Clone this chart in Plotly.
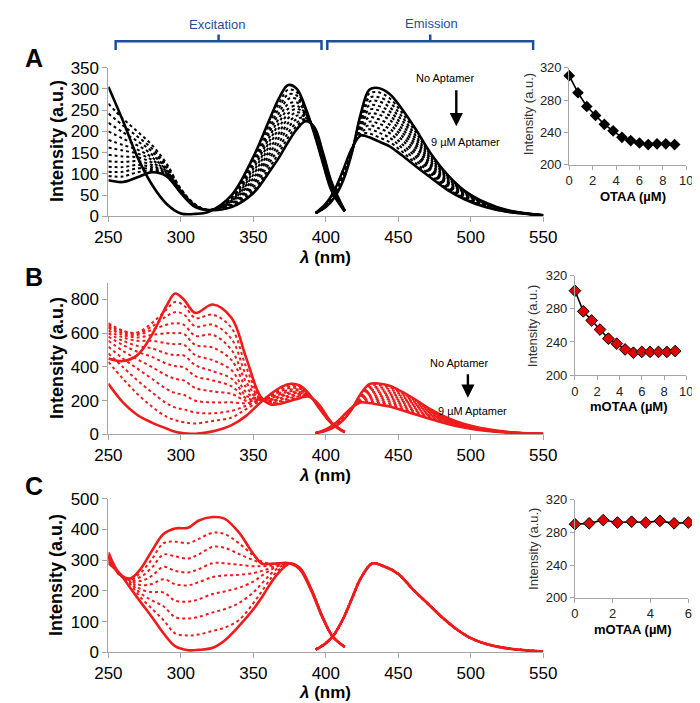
import plotly.graph_objects as go

W, H = 700, 703
FONT = "Liberation Sans, Arial, sans-serif"
RED = "#EE1C1C"
BLUE = "#1F4E9E"

# ---------------- Panel A (black) ----------------
exA_wl = [250, 260, 270, 280, 290, 300, 310, 320, 335, 350, 362, 368, 374, 380, 386, 392, 398, 404, 413]
exA = [
    [305, 225, 140, 75, 30, 7, 6, 12, 50, 140, 235, 280, 309, 300, 255, 195, 125, 60, 12],
    [265, 230, 200, 168, 125, 65, 28, 15, 48, 133, 225, 268, 298, 292, 252, 196, 127, 62, 12],
    [242, 214, 188, 160, 120, 64, 28, 15, 45, 126, 214, 257, 287, 284, 250, 198, 129, 63, 12],
    [220, 198, 177, 153, 116, 63, 27, 15, 43, 119, 204, 245, 276, 276, 247, 199, 131, 65, 12],
    [200, 183, 167, 146, 112, 62, 27, 15, 41, 112, 193, 233, 264, 268, 245, 200, 133, 67, 13],
    [180, 168, 157, 139, 109, 61, 26, 15, 38, 105, 183, 222, 253, 260, 242, 201, 135, 68, 13],
    [162, 155, 148, 133, 106, 60, 26, 15, 36, 98, 173, 210, 242, 253, 240, 203, 138, 70, 13],
    [145, 141, 139, 127, 103, 59, 25, 15, 34, 90, 162, 198, 231, 245, 237, 204, 140, 72, 13],
    [130, 128, 130, 121, 101, 58, 25, 15, 31, 83, 152, 187, 220, 237, 234, 205, 142, 73, 13],
    [117, 116, 121, 116, 99, 57, 24, 15, 29, 76, 141, 175, 209, 229, 232, 206, 144, 75, 14],
    [105, 105, 113, 111, 97, 56, 24, 15, 27, 69, 131, 163, 197, 221, 229, 208, 146, 77, 14],
    [95, 94, 104, 107, 96, 56, 23, 15, 24, 62, 120, 152, 186, 213, 227, 209, 148, 78, 14],
    [85, 81, 92, 104, 95, 55, 22, 15, 22, 55, 110, 140, 175, 205, 224, 210, 150, 80, 14],
]
emA_wl = [393, 400, 406, 412, 418, 424, 430, 436, 444, 452, 462, 472, 484, 496, 510, 525, 550]
emA = [
    [8, 22, 45, 85, 150, 240, 298, 302, 288, 255, 205, 150, 98, 60, 33, 15, 3],
    [8, 23, 46, 87, 151, 236, 289, 292, 278, 246, 198, 145, 95, 58, 32, 15, 3],
    [8, 23, 48, 89, 152, 232, 279, 281, 268, 237, 190, 140, 92, 57, 31, 14, 3],
    [8, 24, 49, 91, 153, 228, 270, 271, 257, 228, 183, 136, 89, 55, 30, 14, 3],
    [8, 25, 51, 93, 153, 223, 261, 260, 247, 218, 176, 131, 86, 53, 29, 14, 3],
    [8, 25, 52, 95, 154, 219, 251, 250, 237, 209, 169, 126, 83, 52, 28, 13, 3],
    [8, 26, 54, 98, 155, 215, 242, 240, 227, 200, 162, 121, 80, 50, 28, 13, 3],
    [8, 27, 55, 100, 156, 211, 233, 229, 216, 191, 154, 116, 77, 48, 27, 13, 3],
    [8, 27, 56, 102, 157, 207, 223, 219, 206, 182, 147, 111, 74, 47, 26, 12, 3],
    [8, 28, 58, 104, 158, 203, 214, 208, 196, 172, 140, 107, 71, 45, 25, 12, 3],
    [8, 29, 59, 106, 158, 198, 205, 198, 185, 163, 132, 102, 68, 43, 24, 12, 3],
    [8, 29, 61, 108, 159, 194, 195, 187, 175, 154, 125, 97, 65, 42, 23, 11, 3],
    [8, 30, 62, 110, 160, 190, 186, 177, 165, 145, 118, 92, 62, 40, 22, 11, 3],
]

# ---------------- Panel B (red) ----------------
exB_wl = [250, 260, 270, 280, 290, 296, 302, 310, 322, 335, 345, 355, 362, 370, 376, 382, 388, 395, 404, 413]
exB = [
    [300, 190, 115, 70, 35, 15, 6, 4, 18, 55, 110, 190, 240, 285, 300, 290, 245, 160, 65, 12],
    [430, 330, 240, 165, 105, 85, 72, 65, 80, 100, 150, 200, 235, 277, 292, 284, 243, 162, 65, 12],
    [480, 400, 320, 250, 185, 160, 148, 130, 125, 140, 170, 205, 230, 268, 283, 278, 242, 163, 66, 13],
    [520, 450, 390, 330, 270, 245, 235, 200, 190, 190, 185, 205, 225, 260, 275, 271, 240, 165, 66, 13],
    [555, 495, 445, 400, 350, 330, 320, 275, 255, 240, 200, 205, 219, 252, 267, 265, 238, 167, 67, 13],
    [580, 530, 490, 460, 420, 405, 398, 345, 320, 285, 215, 205, 214, 243, 258, 259, 237, 168, 67, 13],
    [600, 555, 525, 510, 480, 470, 468, 410, 375, 330, 230, 205, 209, 235, 250, 252, 235, 170, 67, 13],
    [615, 575, 555, 555, 540, 535, 532, 470, 440, 380, 250, 205, 204, 227, 242, 246, 233, 172, 68, 14],
    [630, 590, 575, 590, 600, 600, 596, 530, 515, 440, 280, 205, 199, 218, 233, 240, 232, 173, 68, 14],
    [640, 600, 590, 620, 650, 660, 650, 585, 590, 500, 310, 208, 194, 210, 225, 234, 230, 175, 69, 14],
    [650, 610, 600, 640, 700, 725, 712, 640, 650, 565, 350, 210, 188, 202, 217, 227, 228, 177, 69, 14],
    [660, 615, 605, 660, 740, 785, 765, 690, 710, 630, 400, 215, 183, 193, 208, 221, 227, 178, 70, 15],
    [450, 435, 470, 590, 760, 835, 800, 720, 770, 690, 455, 225, 178, 185, 200, 215, 225, 180, 70, 15],
]
emB_wl = emA_wl
emB = emA

# ---------------- Panel C (red) ----------------
exC_wl = [250, 258, 265, 272, 280, 288, 296, 305, 312, 322, 330, 340, 350, 356, 362, 368, 375, 382, 390, 398, 405, 413]
exC = [
    [290, 255, 210, 165, 115, 62, 20, 7, 8, 15, 38, 85, 140, 180, 225, 262, 288, 275, 205, 112, 50, 18],
    [295, 253, 222, 180, 142, 105, 62, 55, 58, 70, 80, 105, 160, 200, 240, 270, 289, 274, 204, 112, 50, 18],
    [300, 252, 228, 193, 169, 150, 115, 110, 115, 130, 140, 160, 195, 225, 255, 277, 290, 274, 204, 112, 50, 18],
    [305, 252, 232, 206, 196, 195, 168, 165, 172, 190, 198, 210, 230, 250, 268, 282, 290, 273, 203, 111, 50, 18],
    [310, 250, 235, 219, 222, 238, 222, 218, 228, 245, 250, 252, 258, 265, 275, 285, 290, 273, 203, 111, 50, 18],
    [312, 250, 237, 232, 249, 278, 265, 260, 270, 290, 290, 285, 280, 280, 282, 287, 290, 272, 202, 111, 50, 18],
    [315, 250, 238, 245, 276, 318, 312, 305, 318, 343, 340, 320, 300, 290, 287, 289, 290, 272, 201, 110, 50, 18],
    [318, 252, 239, 258, 303, 355, 360, 355, 368, 389, 385, 355, 315, 295, 288, 290, 290, 271, 201, 110, 50, 18],
    [325, 255, 240, 270, 330, 385, 403, 405, 428, 440, 435, 390, 320, 288, 288, 290, 290, 270, 200, 110, 50, 18],
]
emC_wl = [393, 400, 406, 412, 418, 424, 432, 440, 450, 460, 470, 480, 490, 500, 510, 525, 550]
emC = [9, 30, 60, 110, 175, 240, 289, 280, 255, 205, 160, 115, 76, 46, 28, 13, 3]
n_C = 9

# ---------------- Insets ----------------
conc_AB = [0, 0.75, 1.5, 2.25, 3, 3.75, 4.5, 5.25, 6, 6.75, 7.5, 8.25, 9]
insetA = [310, 289, 272, 261, 250, 242, 234, 230, 227, 225, 226, 226, 225]
insetB = [302, 277, 266, 255, 244, 238, 231, 227, 228, 228, 228, 228, 229]
conc_C = [0, 0.75, 1.5, 2.25, 3, 3.75, 4.5, 5.25, 6]
insetC = [290, 291, 295, 292, 293, 292, 294, 291, 292]

main_xticks = [250, 300, 350, 400, 450, 500, 550]


def dxp(a, b):
    return [a / W, b / W]


def dyp(top, bottom):
    return [1 - bottom / H, 1 - top / H]


fig = go.Figure()


def add_family(xs, rows, color, xa, ya):
    n = len(rows)
    order = list(range(1, n - 1)) + [0, n - 1]
    for i in order:
        solid = i in (0, n - 1)
        fig.add_trace(go.Scatter(
            x=xs, y=rows[i], mode="lines", xaxis=xa, yaxis=ya,
            line=dict(color=color, width=2.6 if solid else 2.0,
                      dash="solid" if solid else "dot", shape="spline", smoothing=1.0),
            showlegend=False, hoverinfo="skip"))


add_family(exA_wl, exA, "black", "x", "y")
add_family(emA_wl, emA, "black", "x", "y")
add_family(exB_wl, exB, RED, "x3", "y3")
add_family(emB_wl, emB, RED, "x3", "y3")
add_family(exC_wl, exC, RED, "x5", "y5")
add_family(emC_wl, [emC] * n_C, RED, "x5", "y5")


def add_inset(xs, ys, fill, xa, ya):
    fig.add_trace(go.Scatter(
        x=xs, y=ys, mode="lines+markers", xaxis=xa, yaxis=ya,
        line=dict(color="black", width=1.6),
        marker=dict(symbol="diamond", size=9, color=fill,
                    line=dict(color="black", width=1 if fill != "black" else 0)),
        showlegend=False, hoverinfo="skip", cliponaxis=False))


add_inset(conc_AB, insetA, "black", "x2", "y2")
add_inset(conc_AB, insetB, "#E00000", "x4", "y4")
add_inset(conc_C, insetC, "#E00000", "x6", "y6")

AX = dict(showline=True, linecolor="#A6A6A6", linewidth=1, ticks="outside", ticklen=5,
          tickcolor="#A6A6A6", showgrid=False, zeroline=False)
MAIN_TF = dict(family=FONT, size=17, color="black")
INS_TF = dict(family=FONT, size=13, color="#222")
INS_AX = dict(AX, ticklen=4)

layout = dict(
    width=W, height=H, margin=dict(l=0, r=0, t=0, b=0), autosize=False,
    plot_bgcolor="white", paper_bgcolor="white", showlegend=False,
    font=dict(family=FONT),
    xaxis=dict(AX, domain=dxp(90, 543), range=[250, 550], tickvals=main_xticks, tickfont=MAIN_TF, anchor="y"),
    yaxis=dict(AX, domain=dyp(52, 205), range=[0, 350], dtick=50, tickfont=MAIN_TF, anchor="x"),
    xaxis2=dict(INS_AX, domain=dxp(570, 692), range=[0, 10], dtick=2, tickfont=INS_TF, anchor="y2"),
    yaxis2=dict(INS_AX, domain=dyp(52, 152), range=[200, 320], dtick=40, tickfont=INS_TF, anchor="x2"),
    xaxis3=dict(AX, domain=dxp(90, 543), range=[250, 550], tickvals=main_xticks, tickfont=MAIN_TF, anchor="y3"),
    yaxis3=dict(AX, domain=dyp(273, 429), range=[0, 900], tickvals=[0, 200, 400, 600, 800], tickfont=MAIN_TF, anchor="x3"),
    xaxis4=dict(INS_AX, domain=dxp(576, 692), range=[0, 10], dtick=2, tickfont=INS_TF, anchor="y4"),
    yaxis4=dict(INS_AX, domain=dyp(266, 368), range=[200, 320], dtick=40, tickfont=INS_TF, anchor="x4"),
    xaxis5=dict(AX, domain=dxp(90, 543), range=[250, 550], tickvals=main_xticks, tickfont=MAIN_TF, anchor="y5"),
    yaxis5=dict(AX, domain=dyp(495, 653), range=[0, 500], dtick=100, tickfont=MAIN_TF, anchor="x5"),
    xaxis6=dict(INS_AX, domain=dxp(576, 694), range=[0, 6], dtick=2, tickfont=INS_TF, anchor="y6"),
    yaxis6=dict(INS_AX, domain=dyp(496, 597), range=[200, 320], dtick=40, tickfont=INS_TF, anchor="x6"),
)
fig.update_layout(**layout)

ann = []


def pa(text, px, py, size, bold=False, angle=0, color="black", xanchor="center"):
    ann.append(dict(text=f"<b>{text}</b>" if bold else text, x=px / W, y=1 - py / H,
                    xref="paper", yref="paper", showarrow=False, textangle=angle,
                    xanchor=xanchor, yanchor="middle",
                    font=dict(family=FONT, size=size, color=color)))


pa("A", 12, 42, 25, bold=True)
pa("B", 12, 267, 25, bold=True)
pa("C", 12, 482, 25, bold=True)
for cy in (128, 351, 574):
    pa("Intensity (a.u.)", 36, cy, 18, bold=True, angle=-90)
for ty in (247, 471, 694):
    pa("<i>λ</i> (nm)", 316, ty, 17, bold=True)
pa("OTAA (µM)", 636, 184, 13, bold=True)
pa("mOTAA (µM)", 632, 400, 13, bold=True)
pa("mOTAA (µM)", 636, 629, 13, bold=True)
for cx, cy in ((527, 100), (532, 318), (532, 547)):
    pa("Intensity (a.u.)", cx, cy, 13, angle=-90, color="#333")
pa("Excitation", 203, 8, 13, color=BLUE)
pa("Emission", 427, 7, 13, color=BLUE)


def da(text, x, y, xa, ya, size):
    ann.append(dict(text=text, x=x, y=y, xref=xa, yref=ya, showarrow=False,
                    font=dict(family=FONT, size=size, color="black")))


def arrow(x, y0, y1, xa, ya):
    ann.append(dict(text="", x=x, y=y1, ax=x, ay=y0, xref=xa, yref=ya, axref=xa, ayref=ya,
                    showarrow=True, arrowhead=2, arrowsize=1.1, arrowwidth=2.4, arrowcolor="black"))


da("No Aptamer", 482, 325, "x", "y", 11)
arrow(490, 300, 212, "x", "y")
da("9 µM Aptamer", 496, 176, "x", "y", 11)
da("No Aptamer", 492, 423, "x3", "y3", 11)
arrow(498, 365, 218, "x3", "y3")
da("9 µM Aptamer", 501, 136, "x3", "y3", 11)

fig.update_layout(annotations=ann)

yt = 1 - 25 / H
yb = 1 - 34 / H
yn = 1 - 18 / H
shapes = []
for (a, b) in ((255, 397), (401, 543)):
    m = (a + b) / 2
    path = (f"M {a},{yb} L {a},{yt} L {b},{yt} L {b},{yb} "
            f"M {m},{yt} L {m},{yn}")
    shapes.append(dict(type="path", path=path, xref="x", yref="paper",
                       line=dict(color=BLUE, width=2.5)))
fig.update_layout(shapes=shapes)

fig.write_html("out.html")
